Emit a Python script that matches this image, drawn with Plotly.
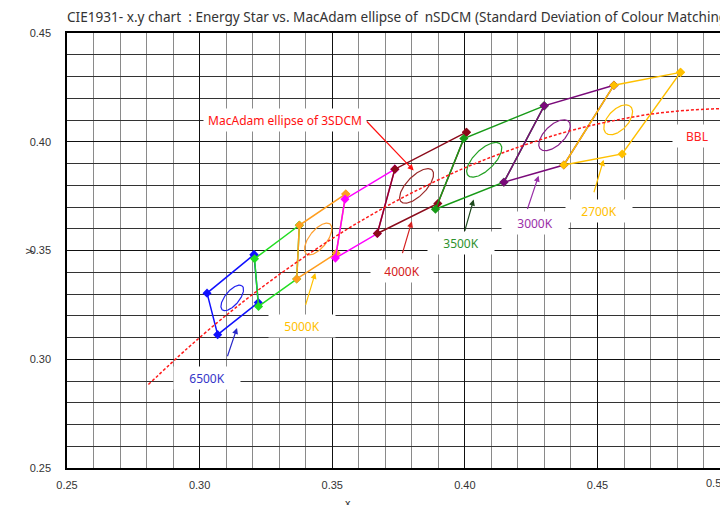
import numpy as np
import plotly.graph_objects as go

# ---------------- data ----------------
quad_names = ["6500K", "5700K", "5000K", "4500K", "4000K", "3500K", "3000K", "2700K"]
quad_x = [
    [0.3205, 0.3028, 0.3068, 0.3221],
    [0.3376, 0.3207, 0.3222, 0.3366],
    [0.3551, 0.3376, 0.3366, 0.3515],
    [0.3736, 0.3548, 0.3512, 0.3670],
    [0.4006, 0.3736, 0.3670, 0.3898],
    [0.4299, 0.3996, 0.3889, 0.4147],
    [0.4562, 0.4299, 0.4147, 0.4373],
    [0.4813, 0.4562, 0.4373, 0.4593],
]
quad_y = [
    [0.3481, 0.3304, 0.3113, 0.3261],
    [0.3616, 0.3462, 0.3243, 0.3369],
    [0.3760, 0.3616, 0.3369, 0.3487],
    [0.3874, 0.3736, 0.3465, 0.3578],
    [0.4044, 0.3874, 0.3578, 0.3716],
    [0.4165, 0.4015, 0.3690, 0.3814],
    [0.4260, 0.4165, 0.3814, 0.3893],
    [0.4319, 0.4260, 0.3893, 0.3944],
]
quad_colors = ["#1010FF", "#22DD22", "#FF9E1F", "#FF00FF", "#8B0A1A", "#179A17", "#7A0A7A", "#FFC000"]

ell_names = ["6500K", "5000K", "4000K", "3500K", "3000K", "2700K"]
ell_cx = [0.3123, 0.3447, 0.3818, 0.4073, 0.4338, 0.4578]
ell_cy = [0.3282, 0.3553, 0.3797, 0.3917, 0.4030, 0.4101]
ell_a = [0.00223, 0.00274, 0.00313, 0.00317, 0.00278, 0.00258]
ell_b = [0.00095, 0.00118, 0.00134, 0.00139, 0.00136, 0.00137]
ell_theta = [58.23, 59.62, 54.00, 52.93, 53.43, 57.28]
ell_colors = ["#2222EE", "#FFA030", "#9A2A2A", "#22A022", "#8A208A", "#FFC000"]
sdcm_steps = 3

bbl_x = [0.2807, 0.2952, 0.3064, 0.3135, 0.3221, 0.3325, 0.3451, 0.3608, 0.3805,
         0.4053, 0.4369, 0.4599, 0.4770, 0.5018, 0.5267]
bbl_y = [0.2884, 0.3048, 0.3166, 0.3236, 0.3318, 0.3411, 0.3516, 0.3636, 0.3768,
         0.3907, 0.4041, 0.4106, 0.4137, 0.4153, 0.4133]

label_text = ["MacAdam ellipse of 3SDCM", "6500K", "5000K", "4000K", "3500K", "3000K", "2700K", "BBL"]
label_x = [0.3323, 0.3029, 0.3387, 0.3764, 0.3986, 0.4265, 0.4504, 0.4876]
label_y = [0.4101, 0.2916, 0.3155, 0.3407, 0.3536, 0.3626, 0.3683, 0.4027]
label_color = ["#FF1010", "#3535C8", "#FFC000", "#D42020", "#2E922E", "#9A30A8", "#FFC000", "#FF2020"]
label_w = [162, 66, 66, 62, 66, 66, 66, 48]

arrow_tail_x = [0.3624, 0.3103, 0.3398, 0.3763, 0.3998, 0.4234, 0.4485]
arrow_tail_y = [0.4101, 0.3007, 0.3243, 0.3481, 0.3583, 0.3684, 0.3761]
arrow_head_x = [0.3807, 0.3141, 0.3436, 0.3800, 0.4033, 0.4278, 0.4523]
arrow_head_y = [0.3868, 0.3144, 0.3397, 0.3634, 0.3734, 0.3844, 0.3917]
arrow_color = ["#FF1010", "#2828C8", "#FFC000", "#D42020", "#1E4A1E", "#9A30A8", "#FFC000"]

x_range = [0.25, 0.4992]
y_range = [0.25, 0.45]

# ---------------- figure ----------------
fig = go.Figure()

for name, xs, ys, c in zip(quad_names, quad_x, quad_y, quad_colors):
    fig.add_trace(go.Scatter(
        x=xs + [xs[0]], y=ys + [ys[0]], mode="lines+markers", name=name,
        line=dict(color=c, width=1.5),
        marker=dict(symbol="diamond", size=7, color=c),
        showlegend=False, cliponaxis=True))

t = np.linspace(0, 2 * np.pi, 181)
for name, cx, cy, a, b, th, c in zip(ell_names, ell_cx, ell_cy, ell_a, ell_b, ell_theta, ell_colors):
    A, B, T = a * sdcm_steps, b * sdcm_steps, np.radians(th)
    ex = cx + A * np.cos(t) * np.cos(T) - B * np.sin(t) * np.sin(T)
    ey = cy + A * np.cos(t) * np.sin(T) + B * np.sin(t) * np.cos(T)
    fig.add_trace(go.Scatter(x=ex, y=ey, mode="lines", line=dict(color=c, width=1.2),
                             showlegend=False, name=name + " ellipse"))

fig.add_trace(go.Scatter(x=bbl_x, y=bbl_y, mode="lines",
                         line=dict(color="#FF1A1A", width=1.5, dash="3px,2px", shape="spline"),
                         showlegend=False, name="BBL"))

annotations = []
for tx, ty, hx, hy, c in zip(arrow_tail_x, arrow_tail_y, arrow_head_x, arrow_head_y, arrow_color):
    annotations.append(dict(x=hx, y=hy, ax=tx, ay=ty, xref="x", yref="y", axref="x", ayref="y",
                            text="", showarrow=True, arrowhead=2, arrowsize=1, arrowwidth=1.2,
                            arrowcolor=c))
for txt, lx, ly, c, w in zip(label_text, label_x, label_y, label_color, label_w):
    annotations.append(dict(x=lx, y=ly, xref="x", yref="y", text=txt, showarrow=False,
                            font=dict(family="Noto Sans", size=12, color=c),
                            bgcolor="white", width=w, height=22, borderpad=0))

annotations.append(dict(x=-0.072, y=0.5, xref="paper", yref="paper", text="y", textangle=-90,
                        showarrow=False, font=dict(family="Liberation Sans", size=11, color="#333")))
annotations.append(dict(x=0.4245, y=-0.08, xref="paper", yref="paper", text="x", yanchor="middle",
                        showarrow=False, font=dict(family="Liberation Sans", size=11, color="#333")))
annotations.append(dict(x=1.0015, y=-0.034, xref="paper", yref="paper", text="0.50", yanchor="middle",
                        showarrow=False, font=dict(family="Liberation Sans", size=11, color="#333")))

fig.update_layout(
    width=720, height=497,
    margin=dict(l=59, r=0, t=25, b=37),
    paper_bgcolor="white", plot_bgcolor="white",
    title=dict(text="CIE1931- x.y chart  : Energy Star vs. MacAdam ellipse of  nSDCM (Standard Deviation of Colour Matching)",
               x=0, xref="paper", xanchor="left", y=0.982, yanchor="middle",
               font=dict(family="Noto Sans", size=13.6, color="#333")),
    annotations=annotations,
    showlegend=False,
)
fig.update_xaxes(range=x_range, tick0=0.25, dtick=0.05, tickformat=".2f",
                 showgrid=True, gridcolor="#111", gridwidth=1,
                 minor=dict(dtick=0.01, tick0=0.25, showgrid=True, gridcolor="#8a8a8a", gridwidth=1),
                 showline=True, linecolor="#000", linewidth=1.5, mirror=True,
                 ticks="", zeroline=False, ticklabelstandoff=6,
                 tickfont=dict(family="Liberation Sans", size=11, color="#333"))
fig.update_yaxes(range=y_range, tick0=0.25, dtick=0.05, tickformat=".2f",
                 showgrid=True, gridcolor="#111", gridwidth=1,
                 minor=dict(dtick=0.01, tick0=0.25, showgrid=True, gridcolor="#333", gridwidth=1),
                 showline=True, linecolor="#000", linewidth=1.5, mirror=False,
                 ticks="", zeroline=False, ticklabelstandoff=12,
                 tickfont=dict(family="Liberation Sans", size=11, color="#333"))

fig.write_html("out.html")
